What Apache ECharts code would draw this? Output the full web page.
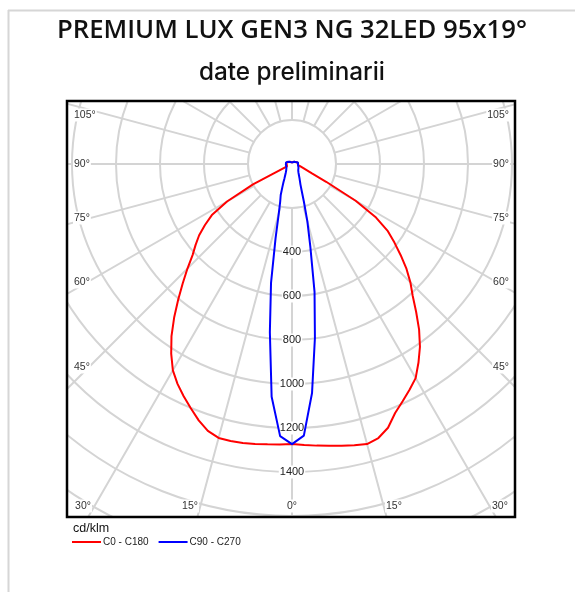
<!DOCTYPE html>
<html><head><meta charset="utf-8">
<script src="https://cdn.jsdelivr.net/npm/echarts@6/dist/echarts.min.js"></script>
<style>html,body{margin:0;padding:0;background:#fff}#c{width:575px;height:592px}</style>
</head><body><div id="c"></div>
<script>
// ---------- DATA ----------
const TITLE = 'PREMIUM LUX GEN3 NG 32LED 95x19°';
const SUBTITLE = 'date preliminarii';
const UNIT = 'cd/klm';
const SERIES_NAMES = ['C0 - C180', 'C90 - C270'];
// gamma angles (deg, 0 = straight down)
const GAMMA = [0,2.5,5,7.5,10,12.5,15,17.5,20,22.5,25,27.5,30,32.5,35,37.5,40,42.5,45,47.5,50,52.5,55,57.5,60,62.5,65,70,75,80,85,90,105,120,135,150,165,180];
// red curve, right half (C0) and left half (C180)
const C0   = [1273,1278,1285,1292,1300,1309,1318,1306,1276,1225,1190,1157,1124,1070,1014,949,878,812,761,706,645,587,532,453,334,175,100,55,38,28,26,25,26,20,14,10,8,7];
const C180 = [1273,1276,1279,1284,1288,1290,1289,1272,1240,1202,1165,1127,1083,1022,955,880,805,735,672,613,572,532,483,432,341,200,25,25,25,25,25,25,26,20,14,10,8,7];
// blue curve, right half (C90) and left half (C270)
const C90  = [1273,1236,1045,798,590,385,270,180,128,100,85,74,65,58,52,48,45,42,40,39,38,37,36,35,34,33,32,30,29,28,28,28,28,20,14,10,8,7];
const C270 = [1273,1238,1062,771,549,345,232,178,150,115,92,75,64,56,50,46,42,39,36,34,32,31,31,30,30,29,29,29,28,28,28,28,28,20,14,10,8,7];
// axes
const RADIUS_MIN = 0, RADIUS_GRID_MIN = 200, RADIUS_MAX = 2000, RADIUS_STEP = 200;
const RADIAL_LABELS = [400,600,800,1000,1200,1400];
const ANGLE_STEP = 15;
const SIDE_LABELS = [105,90,75,60,45];
const BOTTOM_LABELS = [30,15,0,15,30];

// ---------- LAYOUT ----------
const CX = 292, CY = 164, R_IN = 44, R_OUT = 440;
const BOX = {x:67, y:101, w:448, h:416};
const SIDE_Y = [115,164,218,282,367];
const BOTTOM_X = [{x:92,a:'right'},{x:199,a:'right'},{x:292,a:'center'},{x:385,a:'left'},{x:491,a:'left'}];
const LBL_FONT = 'Liberation Sans, Arial, sans-serif';
const TITLE_FONT = '"Open Sans"';
const SUB_FONT = 'Inter';

function fitSize(text, weight, family, target){
  const ctx = document.createElement('canvas').getContext('2d');
  ctx.font = weight + ' 100px ' + family;
  return 100 * target / ctx.measureText(text).width;
}
const titleSize = fitSize(TITLE, 600, TITLE_FONT, 470);
const subSize = fitSize(SUBTITLE, 500, SUB_FONT, 186);

function loop(right, left){
  const pts = [];
  for (let i = GAMMA.length-1; i >= 0; i--) pts.push([right[i], GAMMA[i]]);
  for (let i = 1; i < GAMMA.length; i++) pts.push([left[i], 360 - GAMMA[i]]);
  return pts;
}

const gridColor = '#d4d4d4';
const graphics = [];
// masks outside the plot box
graphics.push({type:'rect', z:3, shape:{x:0,y:0,width:575,height:BOX.y}, style:{fill:'#fff'}});
graphics.push({type:'rect', z:3, shape:{x:0,y:BOX.y+BOX.h,width:575,height:592-BOX.y-BOX.h}, style:{fill:'#fff'}});
graphics.push({type:'rect', z:3, shape:{x:0,y:0,width:BOX.x,height:592}, style:{fill:'#fff'}});
graphics.push({type:'rect', z:3, shape:{x:BOX.x+BOX.w,y:0,width:575-BOX.x-BOX.w,height:592}, style:{fill:'#fff'}});
// card border
graphics.push({type:'line', z:4, shape:{x1:8.5,y1:10,x2:8.5,y2:592}, style:{stroke:'#d6d6d6', lineWidth:2}});
graphics.push({type:'line', z:4, shape:{x1:8,y1:10.5,x2:575,y2:10.5}, style:{stroke:'#d6d6d6', lineWidth:2}});
// plot box
graphics.push({type:'rect', z:5, shape:{x:BOX.x,y:BOX.y,width:BOX.w,height:BOX.h}, style:{fill:null, stroke:'#000', lineWidth:2.5}});
// angle labels
SIDE_LABELS.forEach((v,i)=>{
  graphics.push({type:'text', z:6, style:{text:v+'°', x:73, y:SIDE_Y[i], align:'left', verticalAlign:'middle', font:'10.5px '+LBL_FONT, fill:'#333', backgroundColor:'#fff', padding:[1,1]}});
  graphics.push({type:'text', z:6, style:{text:v+'°', x:510, y:SIDE_Y[i], align:'right', verticalAlign:'middle', font:'10.5px '+LBL_FONT, fill:'#333', backgroundColor:'#fff', padding:[1,1]}});
});
BOTTOM_LABELS.forEach((v,i)=>{
  graphics.push({type:'text', z:6, style:{text:v+'°', x:BOTTOM_X[i].x, y:506, align:BOTTOM_X[i].a, verticalAlign:'middle', font:'10.5px '+LBL_FONT, fill:'#333', backgroundColor:'#fff', padding:[1,1]}});
});
graphics.push({type:'text', z:6, style:{text:UNIT, x:73, y:529, align:'left', verticalAlign:'middle', font:'12.5px '+LBL_FONT, fill:'#111'}});
// titles
graphics.push({type:'text', z:10, style:{text:TITLE, x:292, y:31, align:'center', verticalAlign:'middle', font:'600 '+titleSize.toFixed(2)+'px '+TITLE_FONT, fill:'#111'}});
graphics.push({type:'text', z:10, style:{text:SUBTITLE, x:292, y:73, align:'center', verticalAlign:'middle', font:'500 '+subSize.toFixed(2)+'px '+SUB_FONT, fill:'#111'}});

const chart = echarts.init(document.getElementById('c'), null, {renderer:'canvas'});
chart.setOption({
  animation:false,
  backgroundColor:'#fff',
  legend:{
    left:72, top:537, z:10, padding:0, itemGap:10, itemWidth:29, itemHeight:2, icon:'rect',
    data:SERIES_NAMES,
    textStyle:{fontFamily:LBL_FONT, fontSize:10, color:'#222', padding:[0,0,0,-3]}
  },
  polar:[
    {center:[CX,CY], radius:[R_IN,R_OUT]},
    {center:[CX,CY], radius:[0,R_OUT]}
  ],
  angleAxis:[
    {polarIndex:0, type:'value', min:0, max:360, interval:ANGLE_STEP, startAngle:270, clockwise:false,
     axisLine:{show:false}, axisTick:{show:false}, axisLabel:{show:false},
     splitLine:{show:true, lineStyle:{color:gridColor, width:2}}},
    {polarIndex:1, type:'value', min:0, max:360, startAngle:270, clockwise:false, show:false}
  ],
  radiusAxis:[
    {polarIndex:0, type:'value', min:RADIUS_GRID_MIN, max:RADIUS_MAX, interval:RADIUS_STEP,
     axisLine:{show:false}, axisTick:{show:false},
     splitLine:{show:true, lineStyle:{color:gridColor, width:2}},
     axisLabel:{show:true, margin:0, align:'center', verticalAlign:'middle',
       formatter:v=> RADIAL_LABELS.indexOf(v) >= 0 ? '{b|'+v+'}' : '',
       rich:{b:{backgroundColor:'#fff', padding:[1,1], fontSize:11, fontFamily:LBL_FONT, color:'#222'}}}},
    {polarIndex:1, type:'value', min:RADIUS_MIN, max:RADIUS_MAX, show:false}
  ],
  series:[
    {name:SERIES_NAMES[0], type:'line', coordinateSystem:'polar', polarIndex:1, data:loop(C0,C180),
     showSymbol:false, smooth:false, lineStyle:{color:'#ff0000', width:2}, itemStyle:{color:'#ff0000'}},
    {name:SERIES_NAMES[1], type:'line', coordinateSystem:'polar', polarIndex:1, data:loop(C90,C270),
     showSymbol:false, smooth:false, lineStyle:{color:'#0000ff', width:2}, itemStyle:{color:'#0000ff'}}
  ],
  graphic:{elements:graphics}
});
</script></body></html>
